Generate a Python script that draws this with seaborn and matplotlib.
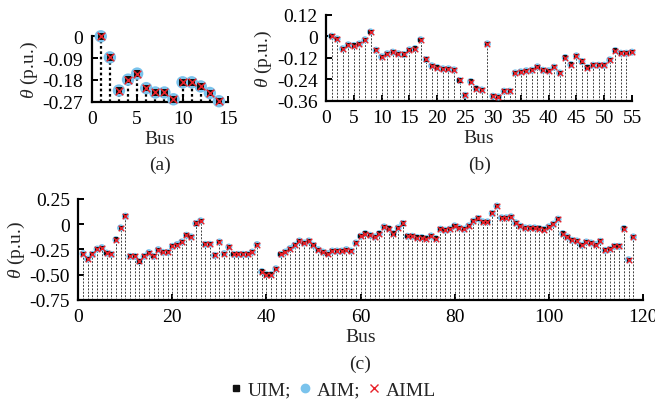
import numpy as np
import matplotlib
matplotlib.use("Agg")
import matplotlib.pyplot as plt
from matplotlib.lines import Line2D
import seaborn as sns

# ---------------- data ----------------
theta_14 = [0.0, -0.087, -0.224, -0.179, -0.154, -0.214, -0.232, -0.232, -0.260,
            -0.190, -0.190, -0.207, -0.234, -0.268]

theta_57 = [0.0, -0.015, -0.070, -0.048, -0.052, -0.043, -0.020, 0.024, -0.078, -0.115,
            -0.098, -0.089, -0.098, -0.102, -0.076, -0.069, -0.020, -0.130, -0.165, -0.175,
            -0.182, -0.182, -0.188, -0.247, -0.330, -0.253, -0.292, -0.300, -0.043, -0.335,
            -0.339, -0.307, -0.307, -0.205, -0.199, -0.193, -0.190, -0.171, -0.190, -0.193,
            -0.173, -0.205, -0.119, -0.158, -0.110, -0.141, -0.175, -0.162, -0.162, -0.162,
            -0.132, -0.080, -0.095, -0.095, -0.089]

theta_118 = [-0.293, -0.347, -0.300, -0.247, -0.233, -0.287, -0.300, -0.153, -0.037, 0.080,
             -0.320, -0.320, -0.370, -0.320, -0.283, -0.320, -0.253, -0.280, -0.280, -0.220,
             -0.203, -0.177, -0.110, -0.127, 0.007, 0.033, -0.200, -0.200, -0.310, -0.177,
             -0.293, -0.227, -0.300, -0.300, -0.300, -0.300, -0.277, -0.203, -0.470, -0.500,
             -0.500, -0.443, -0.300, -0.277, -0.243, -0.210, -0.167, -0.187, -0.167, -0.210,
             -0.253, -0.277, -0.293, -0.267, -0.267, -0.267, -0.253, -0.267, -0.187, -0.120,
             -0.093, -0.110, -0.127, -0.093, -0.027, -0.043, -0.093, -0.037, 0.007, -0.120,
             -0.120, -0.133, -0.133, -0.143, -0.117, -0.143, -0.050, -0.060, -0.050, -0.017,
             -0.037, -0.050, -0.017, 0.030, 0.057, 0.023, 0.023, 0.107, 0.180, 0.063,
             0.063, 0.073, 0.013, -0.020, -0.037, -0.037, -0.037, -0.043, -0.053, -0.027,
             0.000, 0.050, -0.093, -0.127, -0.160, -0.167, -0.210, -0.177, -0.187, -0.203,
             -0.170, -0.260, -0.250, -0.220, -0.220, -0.043, -0.353, -0.127]

xticks_a = [0, 5, 10, 15]
yticks_a = [0, -0.09, -0.18, -0.27]
yticklabels_a = ["0", "-0.09", "-0.18", "-0.27"]

xticks_b = [0, 5, 10, 15, 20, 25, 30, 35, 40, 45, 50, 55]
yticks_b = [0.12, 0, -0.12, -0.24, -0.36]
yticklabels_b = ["0.12", "0", "-0.12", "-0.24", "-0.36"]

xticks_c = [0, 20, 40, 60, 80, 100, 120]
yticks_c = [0.25, 0, -0.25, -0.5, -0.75]
yticklabels_c = ["0.25", "0", "-0.25", "-0.50", "-0.75"]

methods = ["UIM;", "AIM;", "AIML"]

# ---------------- style ----------------
sns.set_style("ticks")
plt.rcParams["font.family"] = ["Liberation Serif", "DejaVu Serif"]
plt.rcParams["mathtext.fontset"] = "custom"
plt.rcParams["mathtext.it"] = "Liberation Serif:italic"
plt.rcParams["mathtext.rm"] = "Liberation Serif"
plt.rcParams["font.size"] = 14
plt.rcParams["xtick.direction"] = "in"
plt.rcParams["ytick.direction"] = "in"

W, H = 655, 402
fig = plt.figure(figsize=(W / 100, H / 100), dpi=100)


def frac(l, t, r, b):
    return [l / W, 1 - b / H, (r - l) / W, (b - t) / H]


ax_a = fig.add_axes(frac(91.7, 37.3, 228.0, 102.7))
ax_b = fig.add_axes(frac(326.0, 15.7, 632.0, 101.7))
ax_c = fig.add_axes(frac(78.3, 200.0, 642.7, 300.7))


def draw(ax, theta, ylim, xlim, big, stem_style):
    bus = np.arange(1, len(theta) + 1)
    vals = np.array(theta)
    ax.set_xlim(*xlim)
    ax.set_ylim(*ylim)
    ax.vlines(bus, ylim[0], vals, **stem_style, zorder=1)
    if big:
        s_c, s_s, s_x, lw_x = 80, 22, 30, 1.1
    else:
        s_c, s_s, s_x, lw_x = 26, 9, 16, 1.0
    sns.scatterplot(x=bus, y=vals, ax=ax, marker="o", s=s_c, color="#7ac3ec",
                    edgecolor="none", clip_on=False, zorder=3, legend=False)
    sns.scatterplot(x=bus, y=vals, ax=ax, marker="s", s=s_s, color="#111111",
                    edgecolor="none", clip_on=False, zorder=4, legend=False)
    sns.scatterplot(x=bus, y=vals, ax=ax, marker="x", s=s_x, color="#e8222a",
                    linewidth=lw_x, clip_on=False, zorder=5, legend=False)
    sns.despine(ax=ax)
    for sp in ("left", "bottom"):
        ax.spines[sp].set_linewidth(1.6)
        ax.spines[sp].set_color("black")
    ax.tick_params(length=4, width=1.4, pad=6, labelsize=14, colors="black")


draw(ax_a, theta_14, (-0.27, 0.0), (0, 15), True,
     dict(colors="black", linestyles=(0, (1.2, 1.2)), linewidth=1.6))
draw(ax_b, theta_57, (-0.36, 0.12), (0, 55), False,
     dict(colors="0.25", linestyles=(0, (2.0, 1.5)), linewidth=0.7))
draw(ax_c, theta_118, (-0.75, 0.25), (0, 120), False,
     dict(colors="0.25", linestyles=(0, (2.0, 1.5)), linewidth=0.7))

for ax, xt, yt, ytl, lp in ((ax_a, xticks_a, yticks_a, yticklabels_a, 2),
                            (ax_b, xticks_b, yticks_b, yticklabels_b, 2),
                            (ax_c, xticks_c, yticks_c, yticklabels_c, 2)):
    ax.set_xticks(xt)
    ax.set_xticklabels([str(v) for v in xt])
    ax.set_yticks(yt)
    ax.set_yticklabels(ytl)
    ax.set_ylabel(r"$\theta$ (p.u.)", fontsize=14, labelpad=lp)
    ax.set_xlabel("Bus", fontsize=14, labelpad=2)

fig.text(160 / W, 1 - 165 / H, "(a)", ha="center", va="center", fontsize=14)
fig.text(480 / W, 1 - 165 / H, "(b)", ha="center", va="center", fontsize=14)
fig.text(360 / W, 1 - 364 / H, "(c)", ha="center", va="center", fontsize=14)

handles = [
    Line2D([], [], linestyle="none", marker="s", markersize=5, color="#111111"),
    Line2D([], [], linestyle="none", marker="o", markersize=6, color="#7ac3ec"),
    Line2D([], [], linestyle="none", marker="x", markersize=6, color="#e8222a",
           markeredgewidth=1.0),
]
fig.legend(handles, methods, loc="center", bbox_to_anchor=(333 / W, 1 - 391 / H),
           ncol=3, frameon=False, fontsize=14, handlelength=0.6, handletextpad=0.3,
           columnspacing=0.4, borderpad=0.1)

fig.savefig("out.png", dpi=100)
